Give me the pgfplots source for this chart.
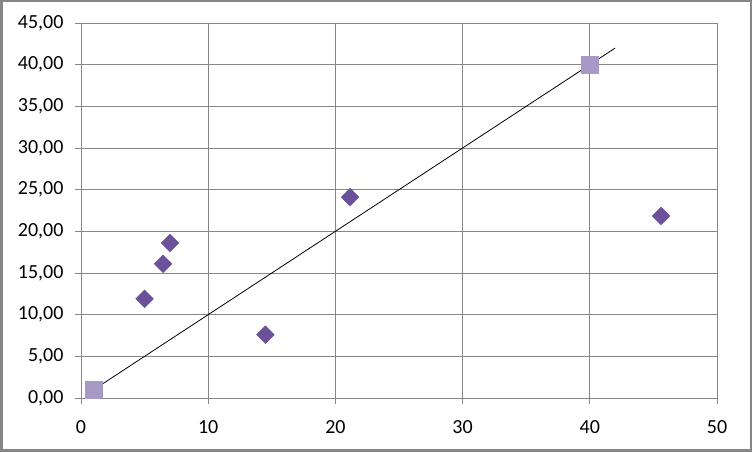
\documentclass[border=0pt]{standalone}
\usepackage{fontspec}
\setmainfont{Carlito}
\usepackage{pgfplots}
\pgfplotsset{compat=1.18}
\definecolor{gridgray}{RGB}{134,134,134}
\definecolor{dpurple}{RGB}{106,81,153}
\definecolor{lpurple}{RGB}{167,153,197}

\begin{document}
\begin{tikzpicture}
\useasboundingbox (0pt,0pt) rectangle (752pt,452pt);
\draw[gridgray, line width=2.5pt] (1.25pt,1.25pt) rectangle (750.75pt,450.75pt);
\begin{axis}[
    at={(81pt,54pt)}, anchor=south west,
    scale only axis, width=636pt, height=375pt,
    xmin=0, xmax=50, ymin=0, ymax=45,
    xtick={0,10,...,50}, ytick={0,5,...,45},
    grid=major, major grid style={gridgray, line width=0.8pt},
    axis line style={gridgray, line width=0.8pt},
    tick style={gridgray, line width=0.8pt},
    tick align=outside, major tick length=6pt,
    xtick pos=bottom, ytick pos=left,
    ticklabel style={font=\fontsize{20}{24}\selectfont, text=black},
    /pgf/number format/assume math mode=true,
    yticklabel style={xshift=-8pt, /pgf/number format/.cd, fixed, fixed zerofill, precision=2, use comma},
    xticklabel style={yshift=-13pt, /pgf/number format/.cd, fixed, precision=0},
    clip=false,
]
% trend line
\addplot[black, line width=0.8pt, no marks] coordinates {(1,1) (42,42)};
% reference points
\addplot[only marks, mark=square*, mark size=8.5pt, mark options={fill=lpurple, draw=lpurple}]
  coordinates {(1,1) (40,40)};
% data points
\addplot[only marks, mark=square*, mark size=6.3pt, mark options={fill=dpurple, draw=dpurple, rotate=45}]
  coordinates {
    (5.0,11.9) (6.45,16.1) (7.0,18.6) (14.5,7.6) (21.15,24.1) (45.6,21.85)
  };
\end{axis}
\end{tikzpicture}
\end{document}
